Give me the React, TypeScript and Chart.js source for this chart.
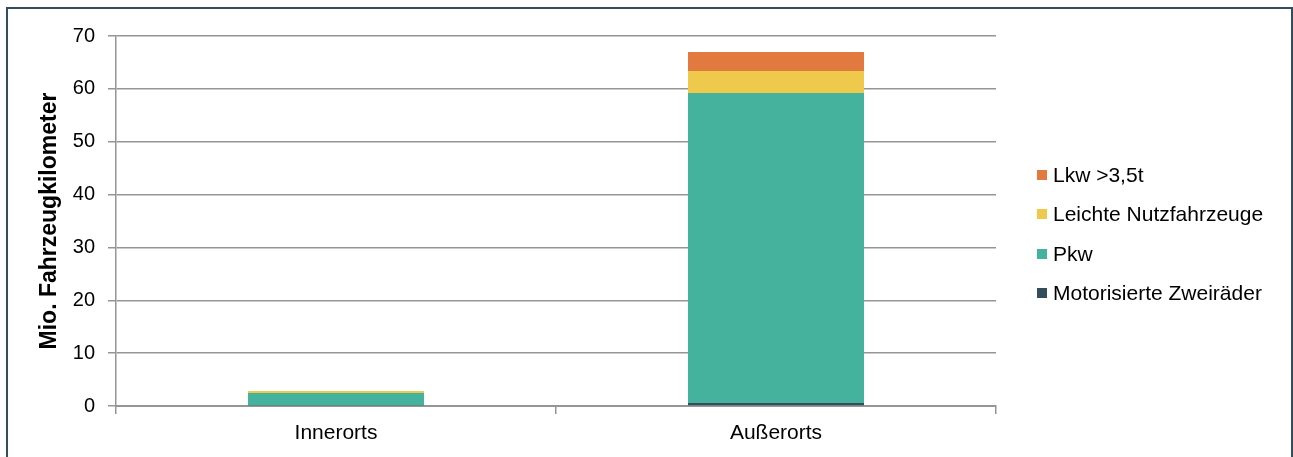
import React, { useEffect, useRef } from "react";
import { Chart, registerables } from "chart.js";

Chart.register(...registerables);

const categories = ["Innerorts", "Außerorts"];
const seriesNames = ["Motorisierte Zweiräder", "Pkw", "Leichte Nutzfahrzeuge", "Lkw >3,5t"];
const zweiraeder = [0.08, 0.57];
const pkw = [2.38, 58.64];
const leichteNfz = [0.36, 4.16];
const lkw = [0.04, 3.6];
const seriesColors = ["#334D5C", "#45B29D", "#EFC94C", "#E27A3F"];
const yTicks = [0, 10, 20, 30, 40, 50, 60, 70];
const yTitle = "Mio. Fahrzeugkilometer";

const FONT = "'Liberation Sans', Arial, sans-serif";
const GRID = "#959595";

export default function App() {
  const ref = useRef<HTMLCanvasElement | null>(null);

  useEffect(() => {
    if (!ref.current) return;
    const values = [zweiraeder, pkw, leichteNfz, lkw];
    const chart = new Chart(ref.current, {
      type: "bar",
      data: {
        labels: categories,
        datasets: seriesNames.map((name, i) => ({
          label: name,
          data: values[i],
          backgroundColor: seriesColors[i],
          borderWidth: 0,
          barPercentage: 0.4,
          categoryPercentage: 1,
        })),
      },
      options: {
        responsive: false,
        animation: false,
        layout: { padding: { top: 36, right: 297, bottom: 0, left: 0 } },
        plugins: { legend: { display: false }, tooltip: { enabled: false } },
        scales: {
          x: {
            stacked: true,
            afterFit: (s: any) => { s.height = 51; },
            grid: { drawOnChartArea: false, drawTicks: true, tickLength: 8, color: GRID, lineWidth: 1.5, offset: true },
            border: { color: GRID, width: 2 },
            ticks: { color: "#000", padding: 7, font: { family: FONT, size: 21 } },
          },
          y: {
            stacked: true,
            min: 0,
            max: 70,
            afterFit: (s: any) => { s.width = 116; },
            afterBuildTicks: (s: any) => { s.ticks = yTicks.map((v) => ({ value: v })); },
            grid: { color: GRID, lineWidth: 1.5, tickLength: 8, drawTicks: true },
            border: { color: GRID, width: 1.5 },
            ticks: { color: "#000", padding: 13, font: { family: FONT, size: 20 } },
            title: {
              display: true,
              text: yTitle,
              color: "#000",
              padding: { top: 36, bottom: 0 },
              font: { family: FONT, size: 23, weight: "bold" },
            },
          },
        },
      },
    });
    return () => chart.destroy();
  }, []);

  const legendOrder = [3, 2, 1, 0];
  const legendTops = [175, 214, 254, 293];

  return (
    <div style={{ position: "fixed", left: 0, top: 0, width: 1293, height: 457, background: "#fff", overflow: "hidden" }}>
      <canvas ref={ref} width={1293} height={457} style={{ position: "absolute", left: 0, top: 0, width: 1293, height: 457 }} />
      <div style={{ position: "absolute", left: 6, top: 7, width: 1283, height: 470, border: "2px solid #334D5C", pointerEvents: "none" }} />
      {legendOrder.map((idx, k) => (
        <div key={idx} style={{ position: "absolute", left: 1037, top: legendTops[k] - 13, height: 26, display: "flex", alignItems: "center", fontFamily: FONT, fontSize: 21, color: "#000", whiteSpace: "nowrap" }}>
          <span style={{ display: "inline-block", width: 10, height: 10, background: seriesColors[idx], marginRight: 6 }} />
          <span>{seriesNames[idx]}</span>
        </div>
      ))}
    </div>
  );
}
